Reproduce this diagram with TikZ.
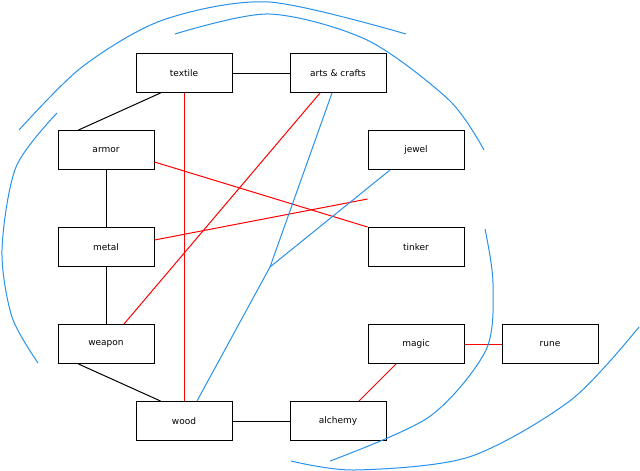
\documentclass[tikz,border=0pt]{standalone}
\usepackage{fontspec}
\setmainfont{DejaVu Sans}
\begin{document}
\begin{tikzpicture}[x=1pt,y=-1pt,
  box/.style={draw,line width=1pt,minimum width=96pt,minimum height=39pt,inner sep=0pt,font=\fontsize{9}{10}\selectfont},
  blk/.style={line width=1pt},
  rd/.style={red,line width=1pt},
  bl/.style={color={rgb,255:red,40;green,145;blue,235},line width=1pt}]
\useasboundingbox (0,0) rectangle (640,471);
\node[box] (textile) at (184,73) {textile};
\node[box] (arts) at (338,73) {arts \& crafts};
\node[box] (armor) at (106,150) {armor};
\node[box] (jewel) at (416,150) {jewel};
\node[box] (metal) at (106,247) {metal};
\node[box] (tinker) at (416,247) {tinker};
\node[box] (weapon) at (106,344) {weapon};
\node[box] (magic) at (416,344) {magic};
\node[box] (rune) at (550,344) {rune};
\node[box] (wood) at (184,421) {wood};
\node[box] (alchemy) at (338,421) {alchemy};
\coordinate (j) at (270,267);
\draw[blk] (textile) -- (arts);
\draw[blk] (textile.south west)++(25,0) -- ([xshift=21pt]armor.north west);
\draw[blk] (armor) -- (metal);
\draw[blk] (metal) -- (weapon);
\draw[blk] ([xshift=21pt]weapon.south west) -- ([xshift=25pt]wood.north west);
\draw[blk] (wood) -- (alchemy);
\draw[rd] (textile) -- (wood);
\draw[rd] ([xshift=-18pt]arts.south) -- ([xshift=18pt]weapon.north);
\draw[rd] (armor.east) ++(0,12) -- (tinker.north west);
\draw[rd] (metal.east) ++(0,-7) -- (jewel.west |- 0,199) ;
\draw[rd] (magic) -- (rune);
\draw[rd] ([xshift=-20pt]magic.south) -- ([xshift=21pt]alchemy.north);
\draw[bl] ([xshift=-6pt]arts.south) -- (j) -- ([xshift=13pt]wood.north);
\draw[bl] (j) -- ([xshift=-26pt]jewel.south);
\draw[bl] plot[smooth] coordinates {(19,130) (82,67) (163,20) (269,2) (406,34)};
\draw[bl] plot[smooth] coordinates {(175,34) (269,14) (367,40) (449,100) (484,150)};
\draw[bl] plot[smooth] coordinates {(57,113) (16,167) (2,250) (12,317) (38,363)};
\draw[bl] plot[smooth] coordinates {(485,229) (493,283) (486,350) (429,417) (330,461)};
\draw[bl] plot[smooth] coordinates {(639,327) (571,400) (469,457) (355,470) (291,461)};
\end{tikzpicture}
\end{document}
